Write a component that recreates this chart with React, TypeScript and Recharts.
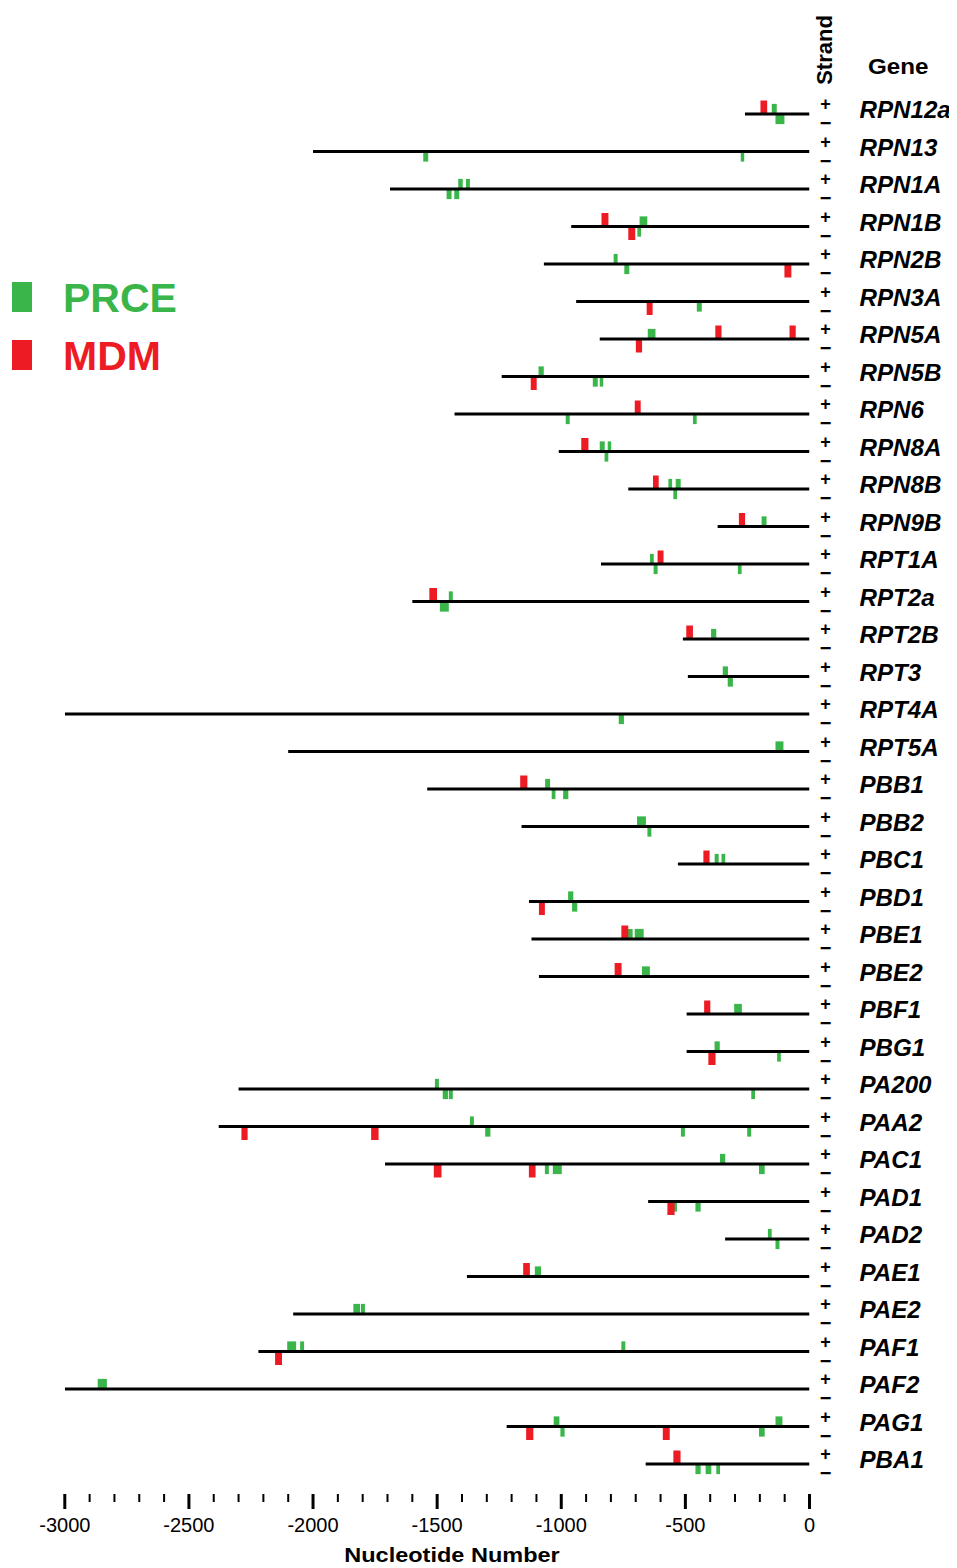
import React from 'react';
import { ComposedChart, Scatter, XAxis, YAxis, ReferenceArea } from 'recharts';

const genes = [
  'RPN12a', 'RPN13', 'RPN1A', 'RPN1B', 'RPN2B', 'RPN3A', 'RPN5A', 'RPN5B', 'RPN6', 'RPN8A',
  'RPN8B', 'RPN9B', 'RPT1A', 'RPT2a', 'RPT2B', 'RPT3', 'RPT4A', 'RPT5A', 'PBB1', 'PBB2',
  'PBC1', 'PBD1', 'PBE1', 'PBE2', 'PBF1', 'PBG1', 'PA200', 'PAA2', 'PAC1', 'PAD1',
  'PAD2', 'PAE1', 'PAE2', 'PAF1', 'PAF2', 'PAG1', 'PBA1',
];

// upstream end of each promoter region (ends at 0)
const promoterStart = [
  -260, -2000, -1690, -960, -1070, -940, -845, -1240, -1430, -1010,
  -730, -370, -840, -1600, -510, -490, -3000, -2100, -1540, -1160,
  -530, -1130, -1120, -1090, -495, -495, -2300, -2380, -1710, -650,
  -340, -1380, -2080, -2220, -3000, -1220, -660,
];

// [gene, centre position, strand, length in nt]
type Motif = [string, number, '+' | '-', number];

const prce: Motif[] = [
  ['RPN12a', -142, '+', 20], ['RPN12a', -119, '-', 36],
  ['RPN13', -1546, '-', 20], ['RPN13', -270, '-', 14],
  ['RPN1A', -1452, '-', 20], ['RPN1A', -1421, '-', 20], ['RPN1A', -1406, '+', 18], ['RPN1A', -1376, '+', 16],
  ['RPN1B', -686, '-', 15], ['RPN1B', -669, '+', 31],
  ['RPN2B', -781, '+', 16], ['RPN2B', -736, '-', 20],
  ['RPN3A', -444, '-', 20],
  ['RPN5A', -636, '+', 31],
  ['RPN5B', -1081, '+', 21], ['RPN5B', -863, '-', 20], ['RPN5B', -838, '-', 14],
  ['RPN6', -974, '-', 16], ['RPN6', -462, '-', 15],
  ['RPN8A', -835, '+', 20], ['RPN8A', -818, '-', 15], ['RPN8A', -806, '+', 14],
  ['RPN8B', -561, '+', 15], ['RPN8B', -541, '-', 15], ['RPN8B', -529, '+', 20],
  ['RPN9B', -183, '+', 20],
  ['RPT1A', -635, '+', 15], ['RPT1A', -620, '-', 16], ['RPT1A', -281, '-', 15],
  ['RPT2a', -1471, '-', 36], ['RPT2a', -1445, '+', 16],
  ['RPT2B', -386, '+', 21],
  ['RPT3', -339, '+', 21], ['RPT3', -319, '-', 21],
  ['RPT4A', -758, '-', 21],
  ['RPT5A', -121, '+', 32],
  ['PBB1', -1055, '+', 20], ['PBB1', -1031, '-', 15], ['PBB1', -982, '-', 21],
  ['PBB2', -677, '+', 36], ['PBB2', -645, '-', 16],
  ['PBC1', -374, '+', 16], ['PBC1', -347, '+', 15],
  ['PBD1', -962, '+', 21], ['PBD1', -946, '-', 21],
  ['PBE1', -722, '+', 19], ['PBE1', -686, '+', 36],
  ['PBE2', -659, '+', 32],
  ['PBF1', -288, '+', 31],
  ['PBG1', -372, '+', 21], ['PBG1', -123, '-', 15],
  ['PA200', -1501, '+', 16], ['PA200', -1467, '-', 21], ['PA200', -1445, '-', 16], ['PA200', -227, '-', 15],
  ['PAA2', -1360, '+', 16], ['PAA2', -1296, '-', 21], ['PAA2', -510, '-', 16], ['PAA2', -243, '-', 16],
  ['PAC1', -1058, '-', 16], ['PAC1', -1016, '-', 36], ['PAC1', -350, '+', 21], ['PAC1', -192, '-', 23],
  ['PAD1', -544, '-', 20], ['PAD1', -449, '-', 21],
  ['PAD2', -160, '+', 15], ['PAD2', -129, '-', 16],
  ['PAE1', -1094, '+', 25],
  ['PAE2', -1824, '+', 27], ['PAE2', -1799, '+', 16],
  ['PAF1', -2086, '+', 36], ['PAF1', -2044, '+', 16], ['PAF1', -750, '+', 16],
  ['PAF2', -2849, '+', 37],
  ['PAG1', -1019, '+', 23], ['PAG1', -995, '-', 17], ['PAG1', -192, '-', 23], ['PAG1', -123, '+', 28],
  ['PBA1', -449, '-', 21], ['PBA1', -407, '-', 23], ['PBA1', -368, '-', 15],
];

const mdm: Motif[] = [
  ['RPN12a', -184, '+', 27],
  ['RPN1B', -824, '+', 28], ['RPN1B', -716, '-', 28],
  ['RPN2B', -87, '-', 28],
  ['RPN3A', -644, '-', 24],
  ['RPN5A', -687, '-', 25], ['RPN5A', -367, '+', 25], ['RPN5A', -68, '+', 25],
  ['RPN5B', -1111, '-', 24],
  ['RPN6', -692, '+', 24],
  ['RPN8A', -905, '+', 29],
  ['RPN8B', -619, '+', 23],
  ['RPN9B', -272, '+', 25],
  ['RPT1A', -600, '+', 24],
  ['RPT2a', -1516, '+', 31],
  ['RPT2B', -483, '+', 27],
  ['PBB1', -1151, '+', 29],
  ['PBC1', -415, '+', 25],
  ['PBD1', -1078, '-', 24],
  ['PBE1', -744, '+', 28],
  ['PBE2', -771, '+', 28],
  ['PBF1', -412, '+', 25],
  ['PBG1', -393, '-', 29],
  ['PAA2', -2276, '-', 25], ['PAA2', -1751, '-', 30],
  ['PAC1', -1498, '-', 31], ['PAC1', -1117, '-', 27],
  ['PAD1', -558, '-', 29],
  ['PAE1', -1140, '+', 27],
  ['PAF1', -2139, '-', 28],
  ['PAG1', -1127, '-', 29], ['PAG1', -577, '-', 28],
  ['PBA1', -534, '+', 29],
];

const majorTicks = [-3000, -2500, -2000, -1500, -1000, -500, 0];
const xTicks = Array.from({ length: 31 }, (_, i) => -3000 + i * 100);
const rows = genes.map((_, i) => i);

const GREEN = '#39b54a';
const RED = '#ed1c24';
const FONT = '"Liberation Sans", Arial, sans-serif';

// heights of the motif boxes, in row units
const PRCE_H = 0.27;
const MDM_H = 0.36;

const XTick = (props: any) => {
  const { x, y, payload } = props;
  const major = majorTicks.includes(payload.value);
  return (
    <g>
      <line x1={x} x2={x} y1={y} y2={y + (major ? 15 : 8)} stroke="#000" strokeWidth={major ? 3 : 2} />
      {major && (
        <text x={x} y={y + 38} textAnchor="middle" fontSize={20} fontFamily={FONT} fill="#000">
          {payload.value}
        </text>
      )}
    </g>
  );
};

const GeneTick = (props: any) => {
  const { x, y, payload } = props;
  const name = genes[payload.value];
  return (
    <g>
      <text x={x + 16} y={y - 4} textAnchor="middle" fontSize={18} fontWeight="bold" fontFamily={FONT} fill="#000">+</text>
      <text x={x + 16} y={y + 16} textAnchor="middle" fontSize={20} fontWeight="bold" fontFamily={FONT} fill="#000">−</text>
      <text
        transform={`translate(${x + 50} ${y + 4}) scale(1.05 1)`}
        fontSize={23}
        fontWeight="bold"
        fontStyle="italic"
        fontFamily={FONT}
        fill="#000"
      >
        {name}
      </text>
    </g>
  );
};

const motifArea = (m: Motif, color: string, h: number, key: string) => {
  const [gene, pos, strand, len] = m;
  const row = genes.indexOf(gene);
  return (
    <ReferenceArea
      key={key}
      x1={pos - len / 2}
      x2={pos + len / 2}
      y1={strand === '+' ? row - h : row}
      y2={strand === '+' ? row : row + h}
      fill={color}
      fillOpacity={1}
      stroke="none"
      ifOverflow="visible"
    />
  );
};

export default function App() {
  return (
    <div style={{ position: 'relative', width: 957, height: 1568, margin: '-8px 0 0 -8px', background: '#fff' }}>
      <ComposedChart width={957} height={1568} margin={{ top: 76.5, right: 0, bottom: 0, left: 64.8 }}>
        <XAxis
          dataKey="x"
          type="number"
          domain={[-3000, 0]}
          ticks={xTicks}
          interval={0}
          tick={<XTick />}
          tickLine={false}
          axisLine={false}
          tickSize={0}
          tickMargin={0}
          height={74}
          allowDataOverflow
        />
        <YAxis
          dataKey="y"
          type="number"
          orientation="right"
          domain={[-1, 36.8]}
          reversed
          ticks={rows}
          interval={0}
          tick={<GeneTick />}
          tickLine={false}
          axisLine={false}
          tickSize={0}
          tickMargin={0}
          width={147.5}
          allowDataOverflow
        />
        {genes.map((g, i) => (
          <Scatter
            key={g}
            name={g}
            data={[{ x: promoterStart[i], y: i }, { x: 0, y: i }]}
            line={{ stroke: '#000', strokeWidth: 3 }}
            shape={() => <g />}
            isAnimationActive={false}
          />
        ))}
        {prce.map((m, i) => motifArea(m, GREEN, PRCE_H, `p${i}`))}
        {mdm.map((m, i) => motifArea(m, RED, MDM_H, `m${i}`))}
      </ComposedChart>

      <svg width={957} height={1568} style={{ position: 'absolute', left: 0, top: 0, pointerEvents: 'none' }}>
        <text
          transform="translate(832 50) rotate(-90)"
          textAnchor="middle"
          fontSize={22}
          fontWeight="bold"
          fontFamily={FONT}
          fill="#000"
        >
          Strand
        </text>
        <text transform="translate(868 74) scale(1.1 1)" fontSize={22} fontWeight="bold" fontFamily={FONT} fill="#000">
          Gene
        </text>
        <rect x={12} y={282} width={20} height={30} fill={GREEN} />
        <text x={63} y={312} fontSize={41} fontWeight="bold" fontFamily={FONT} fill={GREEN}>PRCE</text>
        <rect x={12} y={340} width={20} height={30} fill={RED} />
        <text x={63} y={370} fontSize={41} fontWeight="bold" fontFamily={FONT} fill={RED}>MDM</text>
        <text
          transform="translate(452 1562) scale(1.12 1)"
          textAnchor="middle"
          fontSize={21}
          fontWeight="bold"
          fontFamily={FONT}
          fill="#000"
        >
          Nucleotide Number
        </text>
      </svg>
    </div>
  );
}
